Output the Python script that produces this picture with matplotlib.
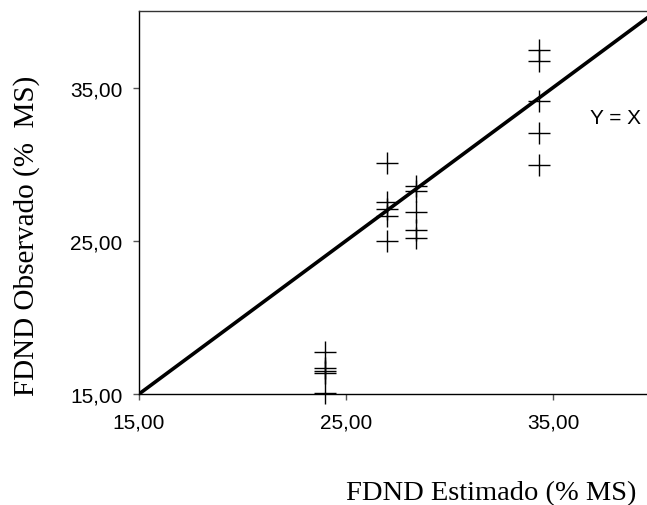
import matplotlib
matplotlib.use('Agg')
import matplotlib.pyplot as plt
import numpy as np

# estimated FDND values (% MS), one cluster per estimated value
estimado = [24.0] * 5 + [27.0] * 5 + [28.4] * 5 + [34.3] * 5
observado = [17.74, 16.69, 16.52, 16.35, 15.07,
             30.11, 27.51, 27.05, 26.60, 24.97,
             28.57, 28.24, 26.88, 25.70, 25.21,
             37.43, 36.76, 34.15, 32.05, 29.98]
ticks = [15, 25, 35]
tick_labels = ['15,00', '25,00', '35,00']

fig = plt.figure(figsize=(6.47, 5.06), dpi=100)
ax = fig.add_axes([139 / 647, 111 / 506, 517.5 / 647, 383 / 506])

ax.plot([15, 40], [15, 40], color='black', linewidth=2.6, zorder=2)
ax.plot(estimado, observado, linestyle='none', marker='+', markersize=15.5,
        markeredgewidth=1.0, color='black', zorder=3, clip_on=False)

ax.set_xlim(15, 40)
ax.set_ylim(15, 40)
ax.set_xticks(ticks)
ax.set_xticklabels(tick_labels)
ax.set_yticks(ticks)
ax.set_yticklabels(tick_labels)
ax.tick_params(direction='out', length=4, width=1, color='#555555',
               labelsize=15, labelcolor='black')
ax.tick_params(axis='x', pad=9)
ax.tick_params(axis='y', pad=8)
for lbl in ax.get_xticklabels() + ax.get_yticklabels():
    lbl.set_family('Liberation Sans')

for side in ['left', 'bottom']:
    ax.spines[side].set_color('black')
    ax.spines[side].set_linewidth(1.0)
ax.spines['top'].set_color('#333333')
ax.spines['top'].set_linewidth(1.0)
ax.spines['right'].set_visible(False)

ax.text(36.79, 33.05, 'Y = X', ha='left', va='center', fontsize=15,
        family='Liberation Sans')

fig.text(491 / 647, 1 - 494 / 506, 'FDND Estimado (% MS)', ha='center',
         va='center', fontsize=20.5, family='Liberation Serif')
fig.text(27 / 647, 1 - 236 / 506, 'FDND Observado (%  MS)', ha='center',
         va='center', rotation=90, fontsize=21, family='Liberation Serif')

fig.savefig('out.png', dpi=100)
